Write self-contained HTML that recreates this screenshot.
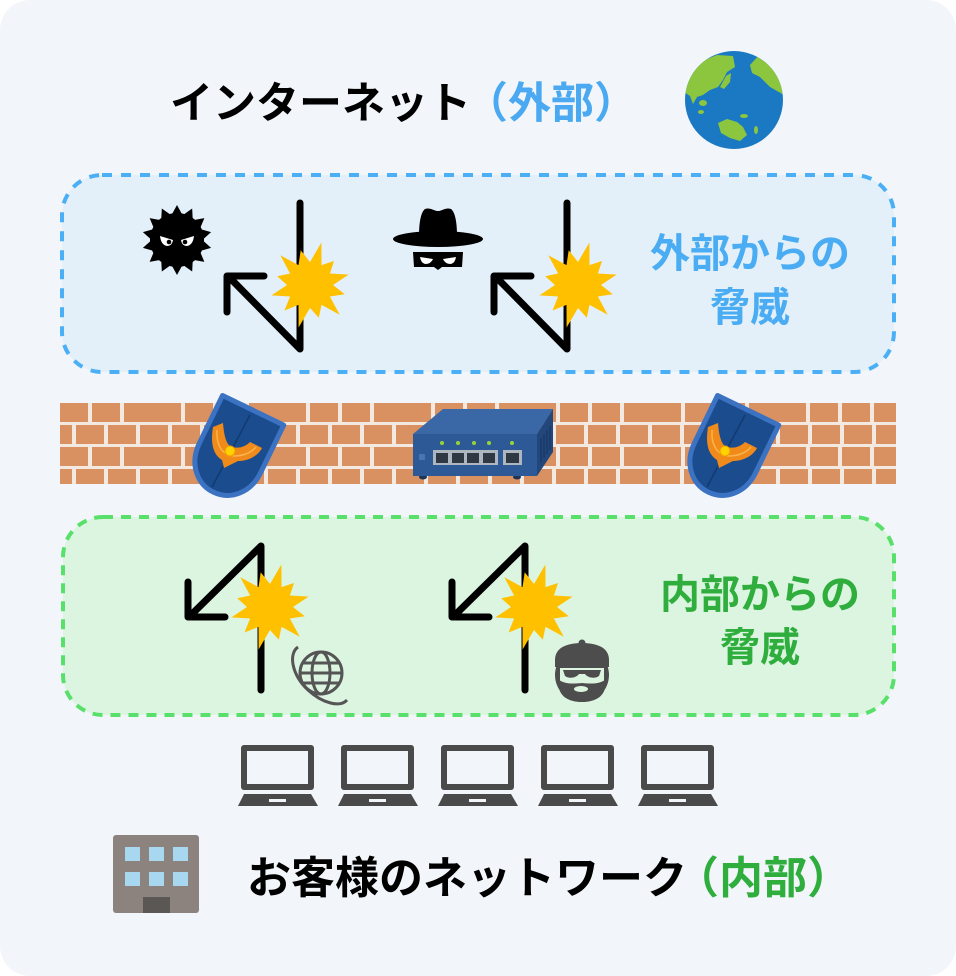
<!DOCTYPE html>
<html><head><meta charset="utf-8"><style>
html,body{margin:0;padding:0;background:#fff;}
svg{display:block;}
text{font-family:"Liberation Sans","Noto Sans CJK JP",sans-serif;font-weight:bold;}
</style></head><body>
<svg width="956" height="976" viewBox="0 0 956 976" xmlns="http://www.w3.org/2000/svg">
<defs>
<pattern id="pa" patternUnits="userSpaceOnUse" x="60" y="403" width="125" height="44">
 <rect x="0" y="0" width="28" height="19" fill="#d99161"/>
 <rect x="32" y="0" width="28" height="19" fill="#d99161"/>
 <rect x="64" y="0" width="57" height="19" fill="#d99161"/>
</pattern>
<pattern id="pb" patternUnits="userSpaceOnUse" x="76" y="403" width="32" height="44">
 <rect x="0" y="22" width="28" height="19" fill="#d99161"/>
</pattern>
<clipPath id="earth"><circle cx="734" cy="100" r="49"/></clipPath>
<clipPath id="wallc"><rect x="60" y="403" width="836" height="81"/></clipPath>
</defs>

<rect width="956" height="976" rx="30" fill="#f2f6fa"/>

<!-- Title -->
<text x="170" y="118" font-size="43" fill="#000">インターネット</text>
<text x="465" y="118" font-size="43" fill="#4aa9f0">（外部）</text>

<!-- Earth -->
<circle cx="734" cy="100" r="49" fill="#1b79c4"/>
<g clip-path="url(#earth)" fill="#8cc63f">
 <polygon points="684,92 688,73 700,62 717,55 733,56 735,67 727,72 723,80 718,87 710,90 703,95 697,97 693,104 690,96"/>
 <polygon points="726,76 731,73 730,82 724,89 720,87"/>
 <polygon points="750,65 760,54 776,57 786,75 786,96 770,87 760,77 752,73"/>
 <polygon points="718,123 727,119 737,122 743,127 747,135 740,141 730,138 721,133"/>
 <ellipse cx="703" cy="103" rx="4" ry="3"/>
 <ellipse cx="701" cy="112" rx="3" ry="2"/>
 <ellipse cx="744" cy="116" rx="4" ry="2"/>
 <ellipse cx="756" cy="130" rx="2" ry="4"/>
</g>

<!-- Blue box -->
<rect x="62" y="175" width="832" height="197" rx="40" fill="#e3f0f9" stroke="#4aaff5" stroke-width="4" stroke-dasharray="10 9"/>

<!-- Virus -->
<g transform="translate(177,240)" fill="#000">
 <circle r="27"/>
 <g id="sp"><polygon points="0,-35 -6,-24 6,-24"/></g>
 <polygon points="0,-35 -6,-24 6,-24" transform="rotate(25.7)"/>
 <polygon points="0,-35 -6,-24 6,-24" transform="rotate(51.4)"/>
 <polygon points="0,-35 -6,-24 6,-24" transform="rotate(77.1)"/>
 <polygon points="0,-35 -6,-24 6,-24" transform="rotate(102.9)"/>
 <polygon points="0,-35 -6,-24 6,-24" transform="rotate(128.6)"/>
 <polygon points="0,-35 -6,-24 6,-24" transform="rotate(154.3)"/>
 <polygon points="0,-35 -6,-24 6,-24" transform="rotate(180)"/>
 <polygon points="0,-35 -6,-24 6,-24" transform="rotate(205.7)"/>
 <polygon points="0,-35 -6,-24 6,-24" transform="rotate(231.4)"/>
 <polygon points="0,-35 -6,-24 6,-24" transform="rotate(257.1)"/>
 <polygon points="0,-35 -6,-24 6,-24" transform="rotate(282.9)"/>
 <polygon points="0,-35 -6,-24 6,-24" transform="rotate(308.6)"/>
 <polygon points="0,-35 -6,-24 6,-24" transform="rotate(334.3)"/>
 <path d="M-17,-4 L-4,0 Q-5,6 -10,6 Q-16,5 -17,-4 Z" fill="#fff"/>
 <path d="M17,-4 L4,0 Q5,6 10,6 Q16,5 17,-4 Z" fill="#fff"/>
 <circle cx="-8" cy="2" r="2.3" fill="#000"/>
 <circle cx="8" cy="2" r="2.3" fill="#000"/>
</g>

<!-- Hacker -->
<g fill="#000">
 <path d="M419,236 C419,222 421,212 425,209 C430,207 434,211 438,211 C442,211 446,207 451,209 C455,212 457,222 457,236 Z"/>
 <ellipse cx="438" cy="239" rx="45" ry="8"/>
 <path d="M413,252 L463,252 L462,267 L442,267 L438,270 L434,267 L414,267 Z"/>
</g>
<path d="M420,257 L433,259 Q431,264 425,264 Q421,263 420,257 Z" fill="#fff"/>
<path d="M456,257 L443,259 Q445,264 451,264 Q455,263 456,257 Z" fill="#fff"/>

<!-- Top arrows -->
<g fill="none" stroke="#000" stroke-width="7" stroke-linecap="round" stroke-linejoin="round">
 <path d="M300,203 L300,349 L228,276"/>
 <path d="M264,276 L227,276 L227,312"/>
 <path d="M567,203 L567,349 L495,276"/>
 <path d="M531,276 L494,276 L494,312"/>
</g>
<g fill="#ffc000">
 <polygon transform="translate(310,285)" points="11.4,-42.5 11.5,-19.9 24,-24 19.9,-11.5 38.6,-10.4 23,0 34.8,9.3 19.9,11.5 29.7,29.7 11.5,19.9 8.8,32.8 0,23 -11.4,42.5 -11.5,19.9 -25.5,25.5 -19.9,11.5 -38.6,10.4 -23,0 -32.8,-8.8 -19.9,-11.5 -29.7,-29.7 -11.5,-19.9 -9.3,-34.8 0,-23"/>
 <polygon transform="translate(578,285)" points="11.4,-42.5 11.5,-19.9 24,-24 19.9,-11.5 38.6,-10.4 23,0 34.8,9.3 19.9,11.5 29.7,29.7 11.5,19.9 8.8,32.8 0,23 -11.4,42.5 -11.5,19.9 -25.5,25.5 -19.9,11.5 -38.6,10.4 -23,0 -32.8,-8.8 -19.9,-11.5 -29.7,-29.7 -11.5,-19.9 -9.3,-34.8 0,-23"/>
</g>

<text x="750" y="267" font-size="40" fill="#4aacf2" text-anchor="middle">外部からの</text>
<text x="750" y="321" font-size="40" fill="#4aacf2" text-anchor="middle">脅威</text>

<!-- Brick wall -->
<g clip-path="url(#wallc)">
 <rect x="60" y="403" width="836" height="81" fill="#f3e9e1"/>
 <rect x="60" y="403" width="836" height="81" fill="url(#pa)"/>
 <rect x="60" y="403" width="836" height="81" fill="url(#pb)"/>
</g>

<!-- Shields -->
<g id="shield1">
 <g transform="translate(254,408.5) rotate(25.9)">
  <path d="M-34,2 L34,2 L34,55 C34,78 18,93 0,93 C-18,93 -34,78 -34,55 Z" fill="#1a4c8e" stroke="#3b72c2" stroke-width="5" stroke-linejoin="round"/>
 </g>
 <line x1="250" y1="415" x2="212" y2="487" stroke="#123a70" stroke-width="1.5"/>
 <path d="M213,427 L223,423 C224,435 226,445 232,447 C240,449 246,446 250,442 L262,448 C258,456 248,461 238,461 L224,468 L222,460 C214,455 210,445 213,427 Z" fill="#f08a1a"/>
 <path d="M217,430 C216,445 222,455 234,456 C244,456 252,452 256,447" fill="none" stroke="#f9b44a" stroke-width="1.5"/>
 <circle cx="230" cy="451" r="5" fill="#ffd200" stroke="#f0a000" stroke-width="1"/>
</g>
<g transform="translate(495,0)">
 <g transform="translate(254,408.5) rotate(25.9)">
  <path d="M-34,2 L34,2 L34,55 C34,78 18,93 0,93 C-18,93 -34,78 -34,55 Z" fill="#1a4c8e" stroke="#3b72c2" stroke-width="5" stroke-linejoin="round"/>
 </g>
 <line x1="250" y1="415" x2="212" y2="487" stroke="#123a70" stroke-width="1.5"/>
 <path d="M213,427 L223,423 C224,435 226,445 232,447 C240,449 246,446 250,442 L262,448 C258,456 248,461 238,461 L224,468 L222,460 C214,455 210,445 213,427 Z" fill="#f08a1a"/>
 <path d="M217,430 C216,445 222,455 234,456 C244,456 252,452 256,447" fill="none" stroke="#f9b44a" stroke-width="1.5"/>
 <circle cx="230" cy="451" r="5" fill="#ffd200" stroke="#f0a000" stroke-width="1"/>
</g>

<!-- Switch -->
<g>
 <ellipse cx="423" cy="477" rx="4" ry="2.5" fill="#1d3559"/>
 <ellipse cx="517" cy="477" rx="4" ry="2.5" fill="#1d3559"/>
 <polygon points="443,409 553,409 537,434 413,434" fill="#3a67a5"/>
 <rect x="413" y="434" width="124" height="42" fill="#2d5a97"/>
 <polygon points="537,434 553,409 553,452 537,476" fill="#22477c"/>
 <g stroke="#183660" stroke-width="1.2">
  <line x1="541" y1="438" x2="541" y2="462"/>
  <line x1="544" y1="434" x2="544" y2="458"/>
  <line x1="547" y1="430" x2="547" y2="454"/>
  <line x1="550" y1="426" x2="550" y2="450"/>
 </g>
 <rect x="433" y="450" width="65" height="15" fill="#aeb7c0"/>
 <rect x="503" y="450" width="19" height="15" fill="#aeb7c0"/>
 <g fill="#2f3943">
  <rect x="436" y="453" width="12" height="10"/>
  <rect x="452" y="453" width="12" height="10"/>
  <rect x="467" y="453" width="12" height="10"/>
  <rect x="483" y="453" width="12" height="10"/>
  <rect x="506" y="453" width="13" height="10"/>
 </g>
 <g fill="#9ad23a">
  <circle cx="442" cy="443" r="2"/>
  <circle cx="458" cy="443" r="2"/>
  <circle cx="474" cy="443" r="2"/>
  <circle cx="489" cy="443" r="2"/>
  <circle cx="512" cy="443" r="2"/>
 </g>
 <rect x="419" y="454" width="6" height="6" rx="1" fill="#4a76b0"/>
</g>

<!-- Green box -->
<rect x="63" y="517" width="831" height="198" rx="40" fill="#dcf5e0" stroke="#58e06a" stroke-width="4" stroke-dasharray="10 8"/>

<!-- Bottom arrows -->
<g fill="none" stroke="#000" stroke-width="7" stroke-linecap="round" stroke-linejoin="round">
 <path d="M261,690 L261,546 L189,617"/>
 <path d="M225,617 L188,617 L188,582"/>
 <path d="M525,690 L525,546 L453,617"/>
 <path d="M489,617 L452,617 L452,582"/>
</g>
<g fill="#ffc000">
 <polygon transform="translate(270,607)" points="11.4,-42.5 11.5,-19.9 24,-24 19.9,-11.5 38.6,-10.4 23,0 34.8,9.3 19.9,11.5 29.7,29.7 11.5,19.9 8.8,32.8 0,23 -11.4,42.5 -11.5,19.9 -25.5,25.5 -19.9,11.5 -38.6,10.4 -23,0 -32.8,-8.8 -19.9,-11.5 -29.7,-29.7 -11.5,-19.9 -9.3,-34.8 0,-23"/>
 <polygon transform="translate(534,607)" points="11.4,-42.5 11.5,-19.9 24,-24 19.9,-11.5 38.6,-10.4 23,0 34.8,9.3 19.9,11.5 29.7,29.7 11.5,19.9 8.8,32.8 0,23 -11.4,42.5 -11.5,19.9 -25.5,25.5 -19.9,11.5 -38.6,10.4 -23,0 -32.8,-8.8 -19.9,-11.5 -29.7,-29.7 -11.5,-19.9 -9.3,-34.8 0,-23"/>
</g>

<!-- Globe icon -->
<g stroke="#555" stroke-width="3" fill="none">
 <circle cx="321" cy="673" r="21"/>
 <ellipse cx="321" cy="673" rx="9" ry="21"/>
 <line x1="300" y1="673" x2="342" y2="673"/>
 <line x1="303" y1="663" x2="339" y2="663"/>
 <line x1="303" y1="683" x2="339" y2="683"/>
 <path d="M298,647 C288,654 292,675 308,690 C322,703 340,708 347,700"/>
</g>

<!-- Thief -->
<g fill="#4d4d4d">
 <circle cx="582" cy="675" r="27"/>
 <circle cx="582" cy="643" r="3.5"/>
 <path d="M555,667 L555,660 C555,647 568,643 582,643 C596,643 609,647 609,660 L609,667 Z"/>
</g>
<path d="M560,668 L604,668 L604,680 C604,694 594,697 582,697 C570,697 560,694 560,680 Z" fill="#dcf5e0"/>
<path d="M563,670 L601,670 L599,676 C595,679 588,678 585,674 L579,674 C576,678 569,679 565,676 Z" fill="#4d4d4d"/>
<path d="M559,680 C565,684 572,684 582,683 C592,684 599,684 605,680 L605,688 C603,698 593,702 582,702 C571,702 561,698 559,688 Z" fill="#4d4d4d"/>
<ellipse cx="581" cy="689" rx="7" ry="3" fill="#dcf5e0"/>

<text x="760" y="608" font-size="40" fill="#2fae3e" text-anchor="middle">内部からの</text>
<text x="760" y="661" font-size="40" fill="#2fae3e" text-anchor="middle">脅威</text>

<!-- Laptops -->
<g transform="translate(241,745)">
 <rect width="73" height="45" rx="3" fill="#4a4a4a"/><rect x="6" y="6" width="61" height="33" fill="#f2f6fa"/>
 <path d="M3,49 L70,49 L77,61 L-3,61 Z" fill="#4a4a4a"/><rect x="28" y="54" width="17" height="3" fill="#f2f6fa"/>
</g>
<g transform="translate(341,745)">
 <rect width="73" height="45" rx="3" fill="#4a4a4a"/><rect x="6" y="6" width="61" height="33" fill="#f2f6fa"/>
 <path d="M3,49 L70,49 L77,61 L-3,61 Z" fill="#4a4a4a"/><rect x="28" y="54" width="17" height="3" fill="#f2f6fa"/>
</g>
<g transform="translate(441,745)">
 <rect width="73" height="45" rx="3" fill="#4a4a4a"/><rect x="6" y="6" width="61" height="33" fill="#f2f6fa"/>
 <path d="M3,49 L70,49 L77,61 L-3,61 Z" fill="#4a4a4a"/><rect x="28" y="54" width="17" height="3" fill="#f2f6fa"/>
</g>
<g transform="translate(541,745)">
 <rect width="73" height="45" rx="3" fill="#4a4a4a"/><rect x="6" y="6" width="61" height="33" fill="#f2f6fa"/>
 <path d="M3,49 L70,49 L77,61 L-3,61 Z" fill="#4a4a4a"/><rect x="28" y="54" width="17" height="3" fill="#f2f6fa"/>
</g>
<g transform="translate(641,745)">
 <rect width="73" height="45" rx="3" fill="#4a4a4a"/><rect x="6" y="6" width="61" height="33" fill="#f2f6fa"/>
 <path d="M3,49 L70,49 L77,61 L-3,61 Z" fill="#4a4a4a"/><rect x="28" y="54" width="17" height="3" fill="#f2f6fa"/>
</g>

<!-- Building -->
<rect x="113" y="835" width="86" height="78" rx="3" fill="#8d837e"/>
<g fill="#a8d8f0">
 <rect x="125" y="847" width="15" height="14"/>
 <rect x="149" y="847" width="15" height="14"/>
 <rect x="173" y="847" width="15" height="14"/>
 <rect x="125" y="872" width="15" height="14"/>
 <rect x="149" y="872" width="15" height="14"/>
 <rect x="173" y="872" width="15" height="14"/>
</g>
<rect x="143" y="897" width="27" height="16" fill="#5b5755"/>

<text x="247" y="893" font-size="44" fill="#000">お客様のネットワーク</text>
<text x="675" y="893" font-size="44" fill="#2fae3e">（内部）</text>
</svg>
</body></html>
